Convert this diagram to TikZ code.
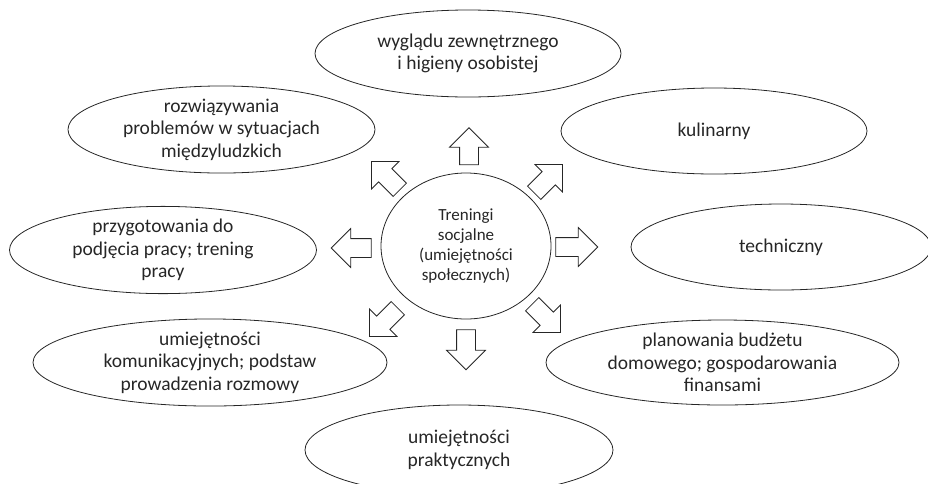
\documentclass[tikz,border=0pt]{standalone}
\usepackage{fontspec}
\setmainfont{Carlito}
\usetikzlibrary{shapes.geometric,shapes.arrows}
\begin{document}
\begin{tikzpicture}[x=1pt,y=-1pt,
  bubble/.style={draw=black!85, line width=0.8pt, ellipse, inner sep=0pt, align=center,
    font=\fontsize{19.5}{22.5}\selectfont, text=black!85},
  hub/.style={bubble, font=\fontsize{17}{20}\selectfont},
  blockarrow/.style={draw=black!85, line width=0.8pt, single arrow, single arrow tip angle=90,
    single arrow head extend=10pt, inner xsep=0pt, inner ysep=9pt, minimum height=40pt},
]
\useasboundingbox (0,0) rectangle (928,483);
\clip (0,0) rectangle (928,483);

\node[hub, minimum width=170pt, minimum height=146pt] (c) at (466,246)
  {Treningi\\socjalne\\(umiejętności\\społecznych)};

\node[bubble, minimum width=306pt, minimum height=87pt] (e1) at (468,53.5)
  {wyglądu zewnętrznego\\i higieny osobistej};
\node[bubble, minimum width=307pt, minimum height=85pt] (e2) at (221.5,129.5)
  {rozwiązywania\\problemów w sytuacjach\\międzyludzkich};
\node[bubble, minimum width=306pt, minimum height=86pt] (e3) at (714,131)
  {kulinarny};
\node[bubble, minimum width=307pt, minimum height=86pt] (e4) at (163,250)
  {przygotowania do\\podjęcia pracy; trening\\pracy};
\node[bubble, minimum width=300pt, minimum height=86pt] (e5) at (781,247)
  {techniczny};
\node[bubble, minimum width=354pt, minimum height=85pt] (e6) at (210,362.5)
  {umiejętności\\komunikacyjnych; podstaw\\prowadzenia rozmowy};
\node[bubble, minimum width=353pt, minimum height=85pt] (e7) at (722.5,362.5)
  {planowania budżetu\\domowego; gospodarowania\\finansami};
\node[bubble, minimum width=308pt, minimum height=90pt] (e8) at (459,450)
  {umiejętności\\praktycznych};

\node[blockarrow, rotate=90, minimum height=37pt] (a1) at (469,151) {};
\node[blockarrow, rotate=45] (a2) at (545,182) {};
\node[blockarrow, rotate=0, minimum height=42pt] (a3) at (572,247) {};
\node[blockarrow, rotate=-45] (a4) at (543,315) {};
\node[blockarrow, rotate=-90] (a5) at (466,345) {};
\node[blockarrow, rotate=-135] (a6) at (387,319) {};
\node[blockarrow, rotate=180] (a7) at (356,248) {};
\node[blockarrow, rotate=135] (a8) at (389,179) {};
\end{tikzpicture}
\end{document}
